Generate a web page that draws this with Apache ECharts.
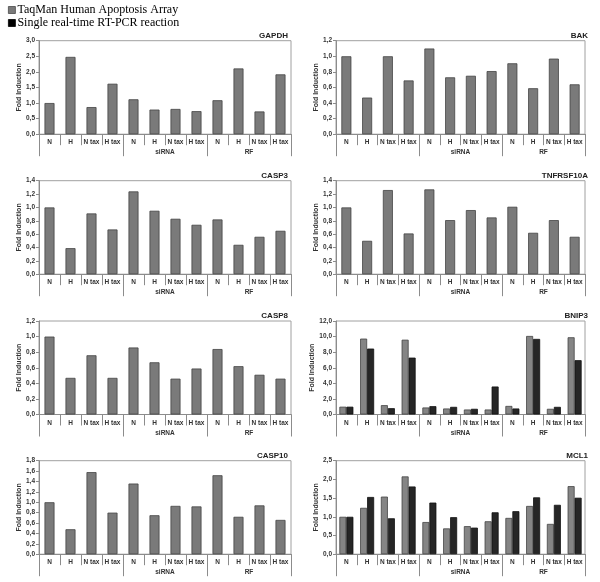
<!DOCTYPE html>
<html>
<head>
<meta charset="utf-8">
<script src="https://cdn.jsdelivr.net/npm/echarts@6/dist/echarts.min.js"></script>
<style>html,body{margin:0;padding:0;background:#fff;}#chart{width:600px;height:582px;}</style>
</head>
<body>
<div id="chart"></div>
<script>
// ---- data ----
const categories = ['N','H','N tax','H tax','N','H','N tax','H tax','N','H','N tax','H tax'];
const groups = ['', 'siRNA', 'RF'];
const seriesNames = ['TaqMan Human Apoptosis Array', 'Single real-time RT-PCR reaction'];
const panelTitles = ['GAPDH','BAK','CASP3','TNFRSF10A','CASP8','BNIP3','CASP10','MCL1'];
const yMaxes = [3.0, 1.2, 1.4, 1.4, 1.2, 12.0, 1.8, 2.5];
const yIntervals = [0.5, 0.2, 0.2, 0.2, 0.2, 2.0, 0.2, 0.5];

const gapdhArray = [1.0, 2.48, 0.87, 1.62, 1.12, 0.79, 0.81, 0.74, 1.09, 2.11, 0.73, 1.92];
const bakArray = [1.0, 0.47, 1.0, 0.69, 1.10, 0.73, 0.75, 0.81, 0.91, 0.59, 0.97, 0.64];
const casp3Array = [1.0, 0.39, 0.91, 0.67, 1.24, 0.95, 0.83, 0.74, 0.82, 0.44, 0.56, 0.65];
const tnfrsf10aArray = [1.0, 0.50, 1.26, 0.61, 1.27, 0.81, 0.96, 0.85, 1.01, 0.62, 0.81, 0.56];
const casp8Array = [1.0, 0.47, 0.76, 0.47, 0.86, 0.67, 0.46, 0.59, 0.84, 0.62, 0.51, 0.46];
const bnip3Array = [1.0, 9.74, 1.2, 9.6, 0.9, 0.77, 0.64, 0.64, 1.1, 10.08, 0.73, 9.91];
const bnip3Single = [1.0, 8.46, 0.81, 7.3, 1.07, 0.98, 0.73, 3.59, 0.77, 9.7, 0.98, 6.97];
const casp10Array = [1.0, 0.48, 1.58, 0.80, 1.36, 0.75, 0.93, 0.92, 1.52, 0.72, 0.94, 0.66];
const mcl1Array = [1.0, 1.24, 1.54, 2.08, 0.86, 0.69, 0.75, 0.88, 0.97, 1.29, 0.81, 1.82];
const mcl1Single = [1.0, 1.53, 0.96, 1.81, 1.38, 0.99, 0.71, 1.12, 1.15, 1.52, 1.32, 1.51];

const arrayData = [gapdhArray, bakArray, casp3Array, tnfrsf10aArray, casp8Array, bnip3Array, casp10Array, mcl1Array];
const singleData = [null, null, null, null, null, bnip3Single, null, mcl1Single];

// ---- layout ----
const colLeft = [39, 336];
const colWidth = [252, 249];
const rowTop = [40.7, 180.7, 321, 460.7];
const plotH = 93.5;
const GRAY = '#7a7a7a', BLACK = '#262626';
const lblFont = {fontFamily: 'Liberation Sans', fontWeight: 'bold', fontSize: 6.5, color: '#333'};
const axisColor = '#8c8c8c';
const fmt = v => v.toFixed(1).replace('.', ',');

const grids = [], xAxes = [], yAxes = [], series = [], titles = [];
panelTitles.forEach((t, i) => {
  const col = i % 2, row = Math.floor(i / 2);
  grids.push({left: colLeft[col], top: rowTop[row], width: colWidth[col], height: plotH,
    show: true, borderColor: '#a0a0a0', borderWidth: 1, backgroundColor: 'transparent', containLabel: false});
  xAxes.push({type: 'category', gridIndex: i, data: categories, position: 'bottom',
    axisLine: {lineStyle: {color: axisColor}},
    axisTick: {show: true, interval: 0, length: 11, lineStyle: {color: axisColor}},
    axisLabel: Object.assign({interval: 0, margin: 5}, lblFont)});
  xAxes.push({type: 'category', gridIndex: i, data: groups, position: 'bottom',
    axisLine: {show: false},
    axisTick: {show: true, interval: 0, length: 22, lineStyle: {color: axisColor}},
    axisLabel: Object.assign({interval: 0, margin: 15}, lblFont)});
  yAxes.push({type: 'value', gridIndex: i, min: 0, max: yMaxes[i], interval: yIntervals[i],
    name: 'Fold Induction', nameLocation: 'middle', nameGap: 15,
    nameTextStyle: {fontFamily: 'Liberation Sans', fontWeight: 'bold', fontSize: 7, color: '#333'},
    axisLine: {show: true, lineStyle: {color: axisColor}},
    axisTick: {show: true, length: 3, lineStyle: {color: axisColor}},
    splitLine: {show: false},
    axisLabel: Object.assign({margin: 4, formatter: fmt}, lblFont)});
  const single = singleData[i];
  series.push({type: 'bar', name: seriesNames[0], xAxisIndex: 2 * i, yAxisIndex: i,
    data: arrayData[i], barWidth: single ? 7 : 10, barGap: '0%',
    itemStyle: {color: single ? '#858585' : GRAY, borderColor: '#444', borderWidth: 0.8}});
  if (single) {
    series.push({type: 'bar', name: seriesNames[1], xAxisIndex: 2 * i, yAxisIndex: i,
      data: single, barWidth: 7, barGap: '0%',
      itemStyle: {color: BLACK, borderColor: '#111', borderWidth: 0.8}});
  }
  titles.push({text: t, right: col === 0 ? 307 : 7, top: rowTop[row] - 14,
    textStyle: {fontFamily: 'Liberation Sans', fontWeight: 'bold', fontSize: 8, color: '#222'}});
});

const chart = echarts.init(document.getElementById('chart'), null, {renderer: 'canvas'});
chart.setOption({
  animation: false,
  backgroundColor: '#fff',
  title: titles,
  legend: {
    orient: 'vertical', left: 3, top: -1, itemGap: 1, itemWidth: 7, itemHeight: 7, icon: 'rect',
    data: [
      {name: seriesNames[0], itemStyle: {color: GRAY, borderColor: '#4a4a4a', borderWidth: 0.8}},
      {name: seriesNames[1], itemStyle: {color: '#000', borderColor: '#000', borderWidth: 0.8}}
    ],
    textStyle: {fontFamily: 'Liberation Serif', fontSize: 12, color: '#000', padding: [0, 0, 0, -3]}
  },
  grid: grids,
  xAxis: xAxes,
  yAxis: yAxes,
  series: series
});
</script>
</body>
</html>
